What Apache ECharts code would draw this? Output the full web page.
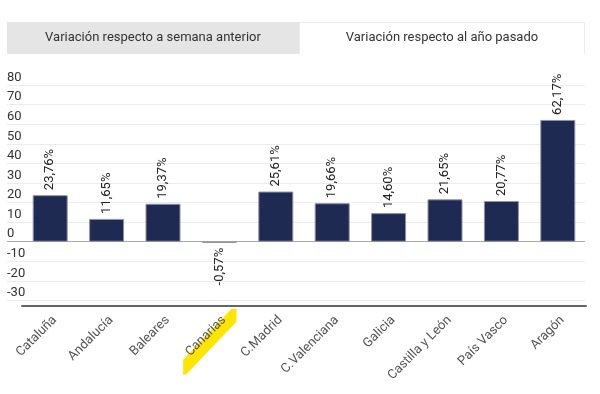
<!DOCTYPE html>
<html>
<head>
<meta charset="utf-8">
<script src="https://cdn.jsdelivr.net/npm/echarts@6/dist/echarts.min.js"></script>
<style>html,body{margin:0;padding:0;background:#fff;}#c{width:600px;height:394px;}</style>
</head>
<body>
<div id="c"></div>
<script>
var categories = ['Cataluña','Andalucía','Baleares','Canarias','C.Madrid','C.Valenciana','Galicia','Castilla y León','País Vasco','Aragón'];
var values = [23.76, 11.65, 19.37, -0.57, 25.61, 19.66, 14.60, 21.65, 20.77, 62.17];
var tabLabels = ['Variación respecto a semana anterior', 'Variación respecto al año pasado'];
var yMin = -30, yMax = 80, yStep = 10;
var highlighted = 'Canarias';

var FONT = 'Roboto, "Liberation Sans", sans-serif';
var chart = echarts.init(document.getElementById('c'), null, {renderer: 'canvas'});

var gridColors = [];
for (var v = yMin; v <= yMax; v += yStep) gridColors.push(v === 0 ? '#a8a8a8' : '#ececec');

var barData = values.map(function (val) {
  var item = {value: val};
  if (val < 0) {
    item.label = {position: 'bottom', align: 'right'};
  }
  return item;
});

var option = {
  animation: false,
  grid: [
    {left: 7, right: 15, top: 85, bottom: 93.5, containLabel: false},
    {left: 22, right: 14, top: 85, bottom: 93.5, containLabel: false}
  ],
  xAxis: [
    {gridIndex: 0, type: 'category', data: categories, show: false},
    {
      gridIndex: 1, type: 'category', data: categories,
      axisLine: {onZero: false, show: true, lineStyle: {color: '#666', width: 2}},
      offset: 5,
      axisTick: {show: false},
      axisLabel: {
        rotate: 45, interval: 0, margin: 8, color: '#555', fontSize: 13, fontFamily: FONT,
        verticalAlign: 'top'
      }
    }
  ],
  yAxis: [
    {
      gridIndex: 0, type: 'value', min: yMin, max: yMax, interval: yStep,
      axisLine: {show: false}, axisTick: {show: false},
      axisLabel: {inside: true, margin: 0, align: 'left', verticalAlign: 'bottom', color: '#333', fontSize: 13, fontFamily: FONT, padding: [0, 0, 1, 0]},
      splitLine: {show: true, lineStyle: {color: gridColors, width: 1}}
    },
    {gridIndex: 1, type: 'value', min: yMin, max: yMax, interval: yStep, show: false, splitLine: {show: false}}
  ],
  series: [{
    type: 'bar', xAxisIndex: 1, yAxisIndex: 1,
    data: barData,
    barWidth: 35,
    itemStyle: {color: '#1f2a52', borderColor: '#8d93aa', borderWidth: 1},
    label: {
      show: true, position: 'top', rotate: 90, align: 'left', verticalAlign: 'middle', distance: 5,
      color: '#222', fontSize: 13, fontFamily: FONT,
      formatter: function (p) { return p.value.toFixed(2).replace('.', ',') + '%'; }
    }
  }]
};
chart.setOption(option);

// Decorations: tabs and highlighter stroke (positioned from the axis scale)
var cx = chart.convertToPixel({xAxisIndex: 1}, highlighted);
var ay = chart.convertToPixel({yAxisIndex: 1}, yMin) + 5;
var hp = [[12, 3.6], [17.2, 3.6], [17, 16.3], [-33.5, 69.3], [-36.2, 69.3], [-36.2, 54.3]].map(function (p) { return [cx + p[0], ay + p[1]]; });

chart.setOption({
  graphic: [
    {type: 'rect', shape: {x: 7, y: 22, width: 292, height: 32}, style: {fill: '#e5e5e5'}, z: -5},
    {type: 'rect', shape: {x: 299.5, y: 22.5, width: 285, height: 40}, style: {fill: '#fff', stroke: '#ececec', lineWidth: 1}, z: -5},
    {type: 'text', x: 153, y: 38, style: {text: tabLabels[0], fill: '#333', font: '13px ' + FONT, align: 'center', verticalAlign: 'middle'}, z: 5},
    {type: 'text', x: 442, y: 38, style: {text: tabLabels[1], fill: '#333', font: '13px ' + FONT, align: 'center', verticalAlign: 'middle'}, z: 5},
    {type: 'rect', shape: {x: 299, y: 54, width: 290, height: 12}, style: {fill: '#fff'}, z: -4},
    {type: 'polygon', shape: {points: hp}, style: {fill: '#ffe500'}, z: -3}
  ]
});
</script>
</body>
</html>
